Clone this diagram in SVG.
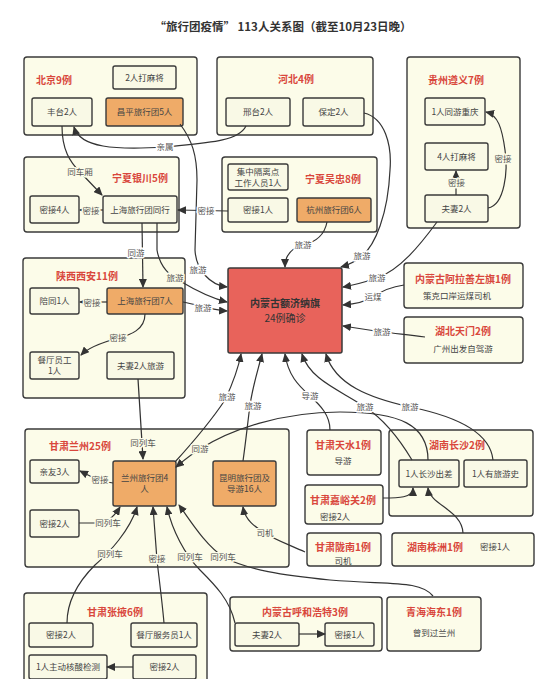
<svg xmlns="http://www.w3.org/2000/svg" width="550" height="679" viewBox="0 0 550 679">
<defs>
<marker id="ah" markerUnits="userSpaceOnUse" markerWidth="9" markerHeight="8" refX="8" refY="4" orient="auto">
<path d="M0,0 L9,4 L0,8 z" fill="#333"/>
</marker>
<style>
text{font-family:"Noto Sans CJK SC","Noto Sans",sans-serif;text-anchor:middle}
.title{font-size:11.5px;font-weight:bold;fill:#333}
.grp{fill:#fcfce9;stroke:#3a3a3a;stroke-width:1.4}
.nd{fill:#f9f9e6;stroke:#3a3a3a;stroke-width:1.4}
.or{fill:#efab68;stroke:#3a3a3a;stroke-width:1.4}
.ctr{fill:#e8635b;stroke:#3a3a3a;stroke-width:1.5}
.h{font-size:10px;font-weight:bold;fill:#d9473c}
.t{font-size:8.5px;fill:#444}
.ct{font-size:10px;fill:#333}
.l{font-size:8.5px;fill:#555;paint-order:stroke;stroke:#fff;stroke-width:3px;stroke-linejoin:round}
.lc{font-size:8.5px;fill:#555;paint-order:stroke;stroke:#fcfce9;stroke-width:3px;stroke-linejoin:round}
.c path{fill:none;stroke:#333;stroke-width:1.2;marker-end:url(#ah)}
</style>
</defs>
<rect width="550" height="679" fill="#fff"/>
<text class="title" x="283" y="31">“旅行团疫情” 113人关系图（截至10月23日晚）</text>

<g id="beijing"><rect class="grp" x="24" y="57" width="173" height="78" rx="3"/><text class="h" x="54" y="84">北京9例</text></g>
<g id="bj-mahjong"><rect class="nd" x="113" y="66" width="63" height="23" rx="2"/><text class="t" x="144.5" y="80.5">2人打麻将</text></g>
<g id="bj-fengtai"><rect class="nd" x="32" y="98" width="60" height="28" rx="2"/><text class="t" x="62" y="115">丰台2人</text></g>
<g id="bj-changping"><rect class="or" x="106" y="98" width="77" height="28" rx="2"/><text class="t" x="144.5" y="115">昌平旅行团5人</text></g>

<g id="hebei"><rect class="grp" x="217" y="57" width="156" height="78" rx="3"/><text class="h" x="296" y="83">河北4例</text></g>
<g id="hb-xingtai"><rect class="nd" x="226" y="98" width="64" height="28" rx="2"/><text class="t" x="258" y="115">邢台2人</text></g>
<g id="hb-baoding"><rect class="nd" x="303" y="98" width="61" height="28" rx="2"/><text class="t" x="333.5" y="115">保定2人</text></g>

<g id="guizhou"><rect class="grp" x="407" y="57" width="113" height="171" rx="3"/><text class="h" x="456" y="84">贵州遵义7例</text></g>
<g id="gz-cq"><rect class="nd" x="425" y="98" width="60" height="27" rx="2"/><text class="t" x="455" y="114.5">1人同游重庆</text></g>
<g id="gz-mahjong"><rect class="nd" x="425" y="143" width="63" height="27" rx="2"/><text class="t" x="456.5" y="159.5">4人打麻将</text></g>
<g id="gz-couple"><rect class="nd" x="425" y="195" width="63" height="27" rx="2"/><text class="t" x="456.5" y="211.5">夫妻2人</text></g>

<g id="yinchuan"><rect class="grp" x="24" y="157" width="155" height="75" rx="3"/><text class="h" x="140" y="182">宁夏银川5例</text></g>
<g id="yc-contact"><rect class="nd" x="30" y="196" width="49" height="27" rx="2"/><text class="t" x="54.5" y="212.5">密接4人</text></g>
<g id="yc-sh"><rect class="nd" x="103" y="196" width="74" height="27" rx="2"/><text class="t" x="140" y="212.5">上海旅行团同行</text></g>

<g id="wuzhong"><rect class="grp" x="222" y="157" width="155" height="75" rx="3"/><text class="h" x="333" y="183">宁夏吴忠8例</text></g>
<g id="wz-worker"><rect class="nd" x="228" y="164" width="60" height="26" rx="2"/><text class="t" x="258" y="175">集中隔离点</text><text class="t" x="258" y="186">工作人员1人</text></g>
<g id="wz-contact"><rect class="nd" x="228" y="198" width="60" height="24" rx="2"/><text class="t" x="258" y="213">密接1人</text></g>
<g id="wz-hz"><rect class="or" x="297" y="198" width="74" height="24" rx="2"/><text class="t" x="334" y="213">杭州旅行团6人</text></g>

<g id="xian"><rect class="grp" x="23" y="258" width="162" height="140" rx="3"/><text class="h" x="87" y="280">陕西西安11例</text></g>
<g id="xa-escort"><rect class="nd" x="30" y="288" width="49" height="26" rx="2"/><text class="t" x="54.5" y="304">陪同1人</text></g>
<g id="xa-sh7"><rect class="or" x="107" y="288" width="76" height="26" rx="2"/><text class="t" x="145" y="304">上海旅行团7人</text></g>
<g id="xa-staff"><rect class="nd" x="30" y="352" width="49" height="27" rx="2"/><text class="t" x="54.5" y="363">餐厅员工</text><text class="t" x="54.5" y="374">1人</text></g>
<g id="xa-couple"><rect class="nd" x="107" y="352" width="67" height="27" rx="2"/><text class="t" x="140.5" y="368.5">夫妻2人旅游</text></g>

<g id="ejina"><rect class="ctr" x="228" y="268" width="114" height="85" rx="2"/><text class="ct" x="285" y="307" font-weight="bold">内蒙古额济纳旗</text><text class="ct" x="285" y="322">24例确诊</text></g>

<g id="alashan"><rect class="grp" x="404" y="263" width="119" height="45" rx="3"/><text class="h" x="463" y="283">内蒙古阿拉善左旗1例</text><text class="t" x="457" y="299">策克口岸运煤司机</text></g>
<g id="hubei"><rect class="grp" x="404" y="317" width="119" height="46" rx="3"/><text class="h" x="463" y="335">湖北天门2例</text><text class="t" x="463" y="352">广州出发自驾游</text></g>

<g id="lanzhou"><rect class="grp" x="25" y="429" width="264" height="138" rx="3"/><text class="h" x="80" y="449.5">甘肃兰州25例</text></g>
<g id="lz-friends"><rect class="nd" x="30" y="460" width="49" height="23" rx="2"/><text class="t" x="54.5" y="474.5">亲友3人</text></g>
<g id="lz-group"><rect class="or" x="113" y="461" width="63" height="45" rx="2"/><text class="t" x="144.5" y="481">兰州旅行团4</text><text class="t" x="144.5" y="492">人</text></g>
<g id="lz-kunming"><rect class="or" x="213" y="461" width="63" height="45" rx="2"/><text class="t" x="244.5" y="481">昆明旅行团及</text><text class="t" x="244.5" y="492">导游16人</text></g>
<g id="lz-contact"><rect class="nd" x="30" y="510" width="49" height="27" rx="2"/><text class="t" x="54.5" y="526.5">密接2人</text></g>

<g id="tianshui"><rect class="grp" x="307" y="430" width="74" height="45" rx="3"/><text class="h" x="343" y="449">甘肃天水1例</text><text class="t" x="343" y="464">导游</text></g>
<g id="changsha"><rect class="grp" x="389" y="430" width="144" height="86" rx="3"/><text class="h" x="457" y="449">湖南长沙2例</text></g>
<g id="cs-trip"><rect class="nd" x="399" y="460" width="60" height="27" rx="2"/><text class="t" x="429" y="476.5">1人长沙出差</text></g>
<g id="cs-hist"><rect class="nd" x="464" y="460" width="63" height="27" rx="2"/><text class="t" x="495.5" y="476.5">1人有旅游史</text></g>
<g id="jiayuguan"><rect class="grp" x="305" y="485" width="78" height="39" rx="3"/><text class="h" x="343" y="503.5">甘肃嘉峪关2例</text><text class="t" x="335" y="520">密接2人</text></g>
<g id="longnan"><rect class="grp" x="307" y="533" width="74" height="33" rx="3"/><text class="h" x="343" y="550.5">甘肃陇南1例</text><text class="t" x="343" y="563.5">司机</text></g>
<g id="zhuzhou"><rect class="grp" x="392" y="533" width="142" height="33" rx="3"/><text class="h" x="435" y="550.5">湖南株洲1例</text><text class="t" x="495" y="550">密接1人</text></g>

<g id="zhangye"><rect class="grp" x="24" y="593" width="183" height="100" rx="3"/><text class="h" x="115" y="615.5">甘肃张掖6例</text></g>
<g id="zy-contact"><rect class="nd" x="29" y="623" width="64" height="24" rx="2"/><text class="t" x="61" y="638">密接2人</text></g>
<g id="zy-waiter"><rect class="nd" x="131" y="623" width="66" height="24" rx="2"/><text class="t" x="164" y="638">餐厅服务员1人</text></g>
<g id="zy-test"><rect class="nd" x="29" y="655" width="78" height="24" rx="2"/><text class="t" x="68" y="670">1人主动核酸检测</text></g>
<g id="zy-contact2"><rect class="nd" x="133" y="655" width="63" height="24" rx="2"/><text class="t" x="164.5" y="670">密接2人</text></g>

<g id="huhehaote"><rect class="grp" x="230" y="597" width="152" height="54" rx="3"/><text class="h" x="305" y="615.5">内蒙古呼和浩特3例</text></g>
<g id="hh-couple"><rect class="nd" x="235" y="623" width="64" height="23" rx="2"/><text class="t" x="267" y="637.5">夫妻2人</text></g>
<g id="hh-contact"><rect class="nd" x="325" y="623" width="49" height="23" rx="2"/><text class="t" x="349.5" y="637.5">密接1人</text></g>
<g id="qinghai"><rect class="grp" x="387" y="597" width="94" height="54" rx="3"/><text class="h" x="434" y="615.5">青海海东1例</text><text class="t" x="434" y="636">曾到过兰州</text></g>

<g id="connectors" class="c">
<path d="M246,126 C238,142 205,143 165,147 C115,150 80,148 74,127"/>
<path d="M62,126 C62,150 70,162 80,172 L102,195"/>
<path d="M228,211 L178,210"/>
<path d="M103,210 L80,210"/>
<path d="M456,195 L456,171"/>
<path d="M488,208 C505,205 508,170 505,150 C502,128 498,115 486,112"/>
<path d="M437,222 C420,245 400,270 377,278 C365,282 355,285 343,287"/>
<path d="M364,113 C385,118 392,145 390,170 C388,215 375,245 362,256 C355,262 348,265 341,267"/>
<path d="M327,222 C324,238 312,243 303,245 C292,248 285,254 285,267"/>
<path d="M180,124 C192,140 197,155 197,180 L195,250 C196,270 210,285 227,287"/>
<path d="M157,223 L157,250 C160,268 170,276 180,281 C195,290 210,298 227,302"/>
<path d="M142,223 L143,287"/>
<path d="M183,302 C200,305 210,310 227,311"/>
<path d="M107,302 L80,302"/>
<path d="M145,314 C145,330 130,335 118,338 C100,343 88,348 81,355"/>
<path d="M404,285 C390,287 380,292 373,297 C365,302 355,304 343,305"/>
<path d="M425,337 C405,335 395,333 382,332 L343,326"/>
<path d="M138,379 L143,459"/>
<path d="M175,462 C195,440 215,415 225,400 C232,385 238,370 241,354"/>
<path d="M428,460 C428,425 400,412 340,412 C280,412 230,430 200,449 C190,455 182,462 176,467"/>
<path d="M243,461 C246,440 248,420 250,405 C253,385 258,370 262,354"/>
<path d="M330,430 C330,415 320,405 310,396 C298,385 288,375 285,354"/>
<path d="M412,460 C400,440 385,420 365,407 C340,390 310,380 302,354"/>
<path d="M493,460 C490,430 450,415 410,407 C370,398 335,385 326,354"/>
<path d="M383,498 C398,498 413,498 413,488"/>
<path d="M463,533 C462,510 430,505 428,488"/>
<path d="M113,483 C105,482 95,478 90,476 L80,471"/>
<path d="M79,523 L100,523 C108,523 115,515 120,507"/>
<path d="M67,623 C67,600 80,580 95,565 C110,552 130,530 137,507"/>
<path d="M164,623 C162,600 158,570 157,560 L153,507"/>
<path d="M235,623 C230,600 215,585 200,570 C185,555 172,530 167,507"/>
<path d="M433,596 C420,580 390,585 330,580 C280,575 250,570 225,558 C205,545 190,520 179,505"/>
<path d="M305,552 C290,545 275,540 265,533 C255,527 245,520 243,507"/>
<path d="M133,667 L107,667"/>
<path d="M299,634 L325,634"/>
</g>
<g id="labels">
<text class="l" x="165" y="150">亲属</text>
<text class="lc" x="80" y="175">同车厢</text>
<text class="lc" x="91" y="214">密接</text>
<text class="l" x="206" y="214">密接</text>
<text class="lc" x="456.5" y="186">密接</text>
<text class="lc" x="503" y="162">密接</text>
<text class="l" x="136" y="256">同游</text>
<text class="lc" x="175" y="281">旅游</text>
<text class="l" x="198" y="273">旅游</text>
<text class="l" x="203" y="311">旅游</text>
<text class="l" x="303" y="248">旅游</text>
<text class="l" x="362" y="259">旅游</text>
<text class="l" x="377" y="281">旅游</text>
<text class="l" x="373" y="300">运煤</text>
<text class="l" x="382" y="335">旅游</text>
<text class="lc" x="92" y="306">密接</text>
<text class="lc" x="118" y="341">密接</text>
<text class="lc" x="143" y="446">同列车</text>
<text class="lc" x="200" y="452">同游</text>
<text class="l" x="227" y="400">旅游</text>
<text class="l" x="253" y="409">旅游</text>
<text class="l" x="310" y="399">导游</text>
<text class="l" x="365" y="410">旅游</text>
<text class="l" x="410" y="410">旅游</text>
<text class="lc" x="100" y="483">密接</text>
<text class="lc" x="108" y="526">同列车</text>
<text class="lc" x="110" y="557">同列车</text>
<text class="lc" x="157" y="562">密接</text>
<text class="lc" x="190" y="560">同列车</text>
<text class="lc" x="223" y="560">同列车</text>
<text class="lc" x="265" y="536">司机</text>
</g>
</svg>
